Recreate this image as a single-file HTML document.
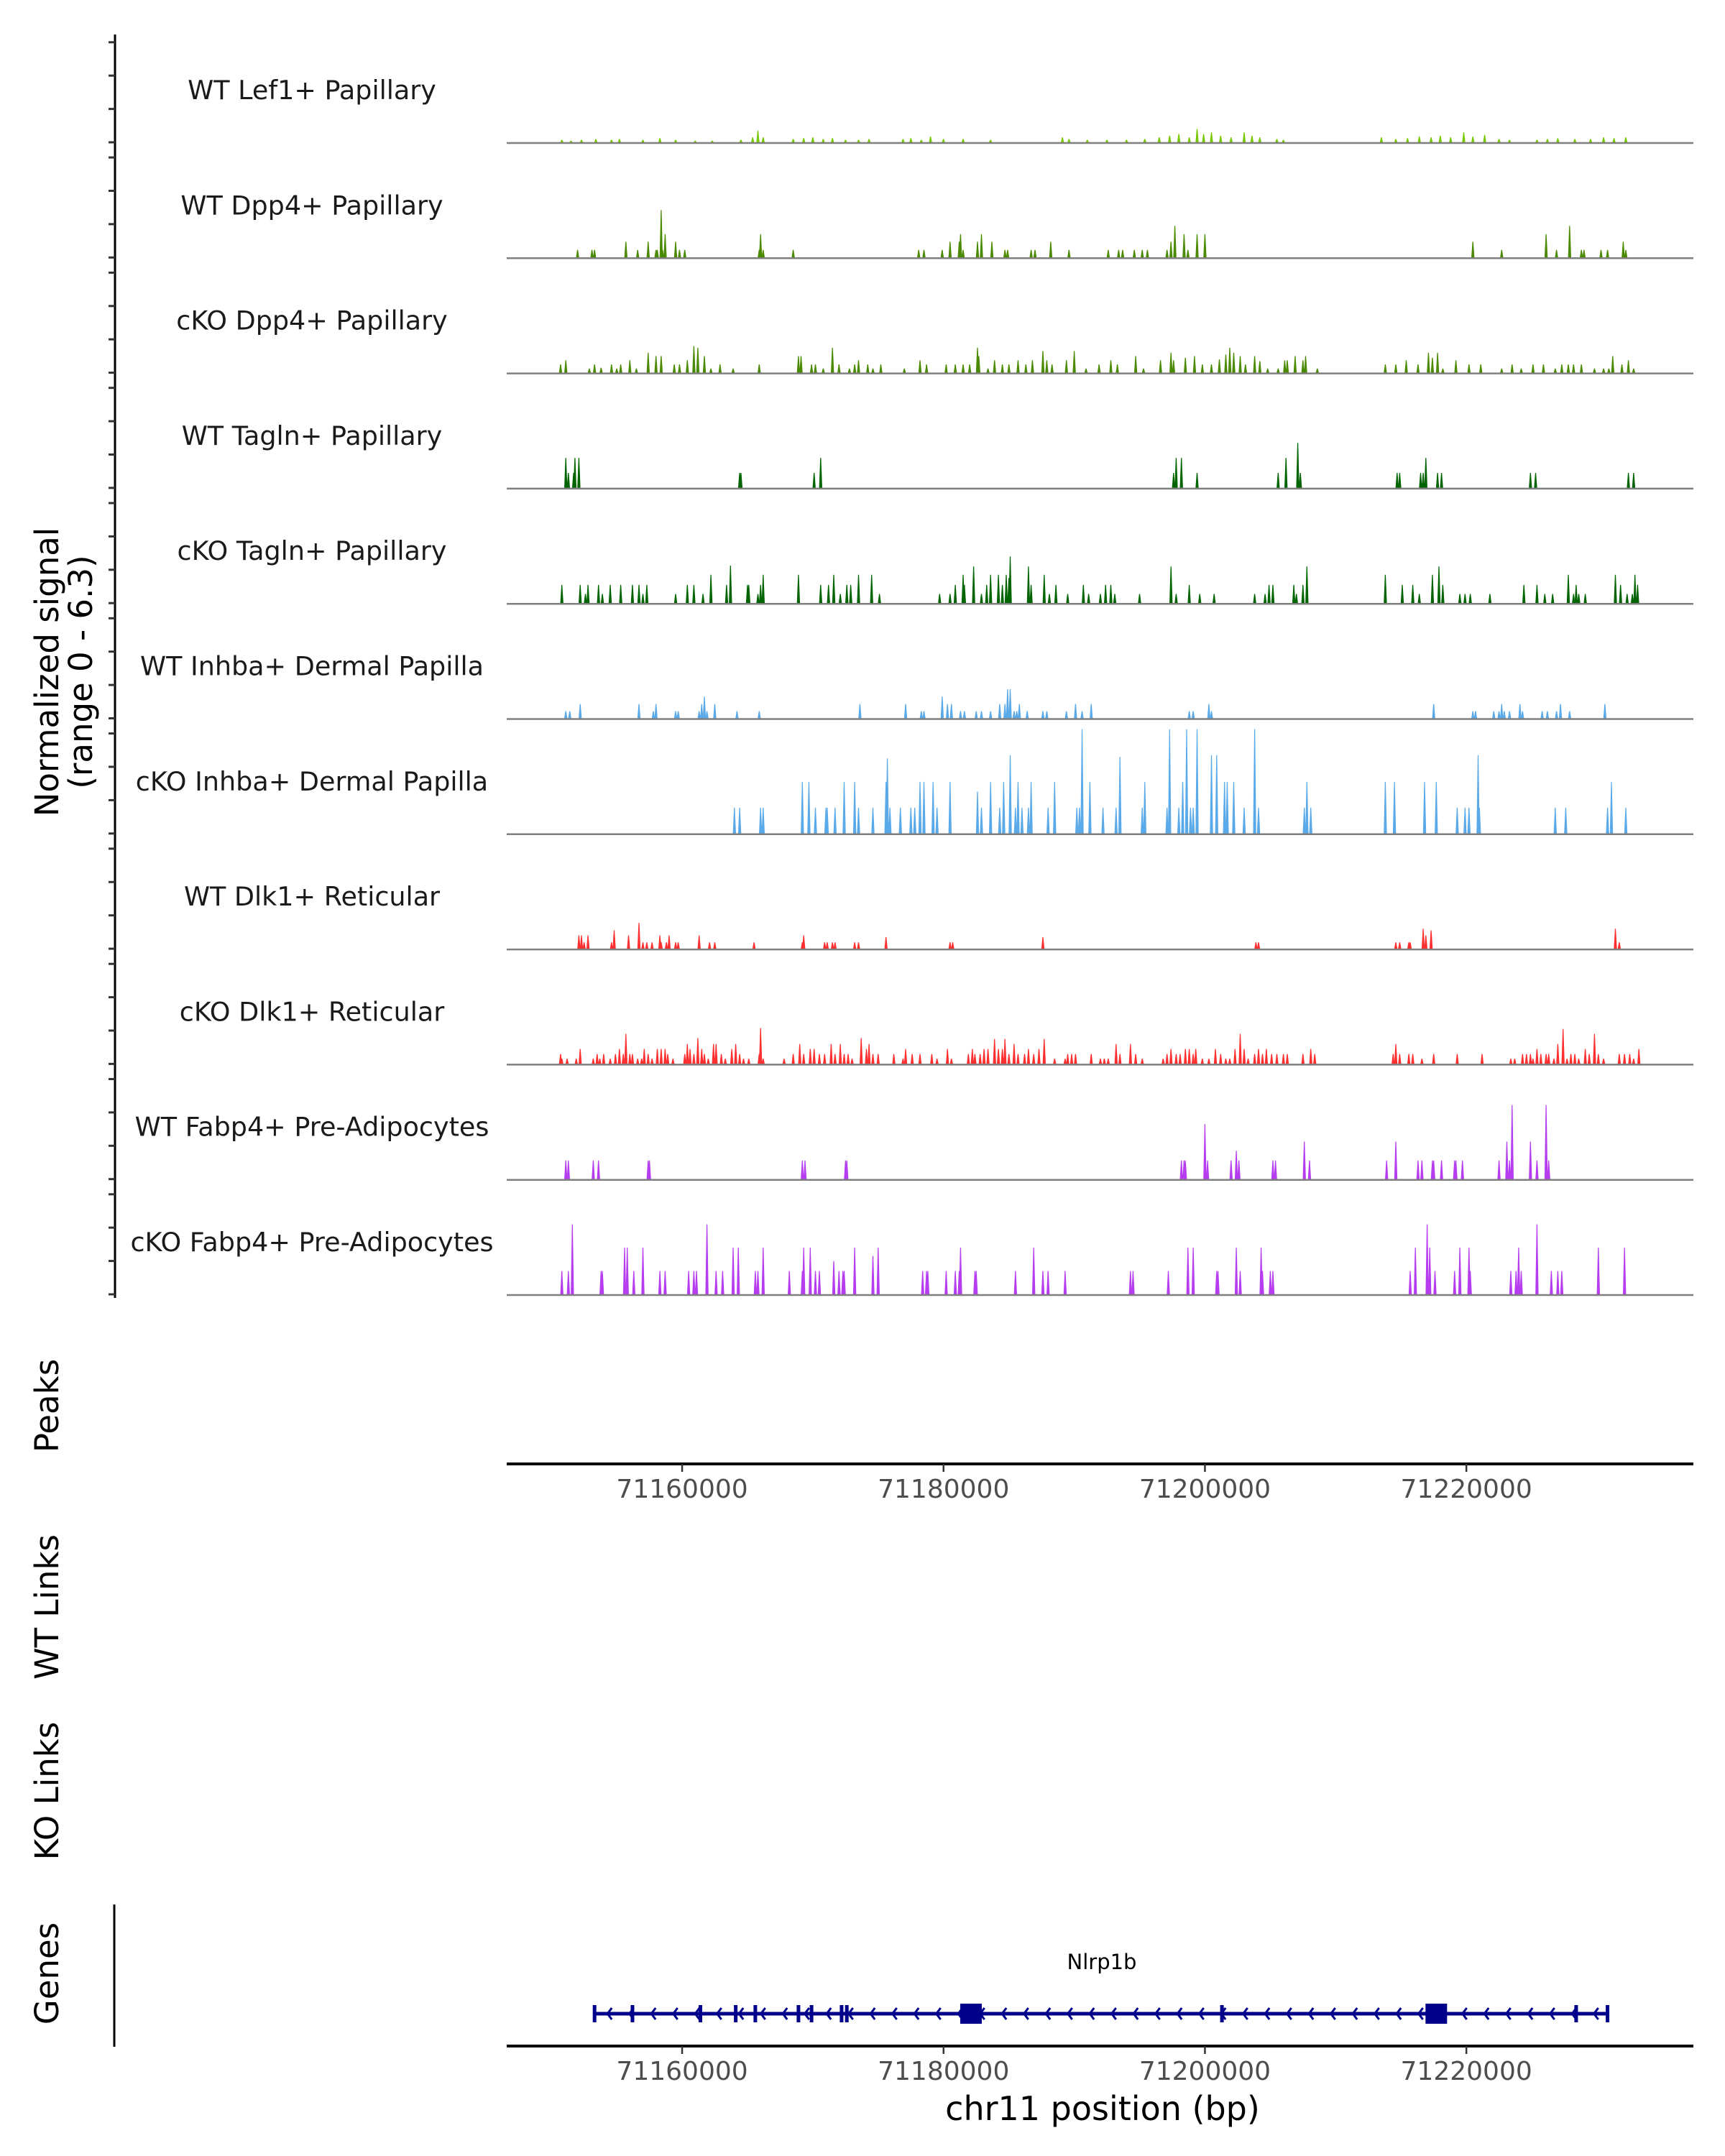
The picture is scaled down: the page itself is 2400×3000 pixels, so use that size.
<!DOCTYPE html>
<html><head><meta charset="utf-8"><style>
html,body{margin:0;padding:0;background:#fff}
svg{display:block}
text{font-family:"DejaVu Sans","Liberation Sans",sans-serif}
</style></head><body>
<svg id="chart" width="2400" height="3000" viewBox="0 0 2400 3000" xmlns="http://www.w3.org/2000/svg"></svg>
<script>
// ---- data (positions are kb offsets from 71,140,000 bp; values are normalized signal) ----
const originBp = 71140000;
const trackNames = ["WT Lef1+ Papillary","WT Dpp4+ Papillary","cKO Dpp4+ Papillary","WT Tagln+ Papillary","cKO Tagln+ Papillary","WT Inhba+ Dermal Papilla","cKO Inhba+ Dermal Papilla","WT Dlk1+ Reticular","cKO Dlk1+ Reticular","WT Fabp4+ Pre-Adipocytes","cKO Fabp4+ Pre-Adipocytes"];
const trackColors = ["#76c800","#4a8a00","#4a8a00","#006400","#006400","#5aaaea","#5aaaea","#ff2f2f","#ff2f2f","#b63cf0","#b63cf0"];
const xTicks = [71160000,71180000,71200000,71220000];
const yTickValues = [0,2,4,6];
const yMax = 6.3;

const pos1 = [10.8,11.5,12.3,13.4,14.6,15.2,17.0,18.3,19.5,21.0,22.3,24.5,25.4,25.8,26.2,28.5,29.3,30.0,30.8,31.5,32.5,33.5,34.3,36.9,37.5,38.3,39.0,40.0,41.5,43.6,49.1,49.6,51.0,52.5,54.0,55.4,56.5,57.3,58.0,58.8,59.4,59.9,60.5,61.2,62.0,63.0,63.6,64.2,65.5,66.0,73.5,74.6,75.5,76.4,77.3,78.0,78.8,79.8,80.5,81.4,82.5,83.3,85.4,86.2,87.0,88.3,89.5,90.5,91.3,92.2];
const val1 = [.15,.1,.15,.2,.15,.2,.15,.25,.15,.1,.1,.15,.3,.7,.3,.2,.25,.3,.2,.25,.15,.15,.2,.2,.25,.15,.35,.2,.2,.15,.3,.2,.15,.15,.15,.2,.3,.4,.5,.3,.8,.5,.6,.4,.3,.6,.4,.3,.2,.15,.3,.2,.25,.35,.3,.4,.3,.6,.35,.45,.2,.15,.15,.2,.25,.2,.2,.3,.25,.3];

const pos2 = [12.0,13.1,13.3,15.7,16.6,17.4,18.0,18.1,18.4,18.5,18.7,19.5,19.8,20.2,25.9,26.0,26.2,28.5,38.1,38.5,39.9,40.5,41.2,41.3,41.5,42.6,42.9,43.7,44.7,44.9,46.7,47.0,48.2,49.6,52.6,53.4,53.7,54.6,55.2,55.6,57.1,57.4,57.7,58.4,58.7,59.4,60.0,80.5,82.7,86.1,86.9,87.9,88.8,89.0,90.3,90.8,92.0,92.2];
const val2 = [.46,.46,.46,.95,.46,.95,.46,.46,2.85,.46,1.4,.95,.46,.46,.46,1.4,.46,.46,.46,.46,.46,.95,.95,1.4,.46,.95,1.4,.95,.46,.46,.46,.46,.95,.46,.46,.46,.46,.46,.46,.46,.46,.95,1.9,1.4,.46,1.4,1.4,.95,.46,1.4,.46,1.9,.46,.46,.46,.46,.95,.46];

const pos3 = [10.7,11.1,12.9,13.3,13.8,14.6,15.0,15.3,16.0,16.5,17.4,18.0,18.4,19.4,19.8,20.4,20.9,21.2,21.7,22.2,22.9,23.9,25.9,28.9,29.1,29.9,30.2,30.8,31.5,32.0,32.8,33.2,33.5,34.2,34.6,35.2,37.0,38.2,38.7,40.2,40.9,41.5,42.0,42.6,42.7,43.4,43.9,44.5,45.0,45.7,46.3,46.8,47.6,47.9,48.3,49.4,50.0,50.9,51.9,52.8,53.3,54.7,55.3,56.6,57.4,57.6,58.5,59.2,59.8,60.5,61.1,61.6,61.9,62.2,62.7,63.1,63.8,64.2,64.8,65.6,66.1,66.3,66.9,67.5,67.7,68.6,73.8,74.6,75.4,76.3,77.1,77.4,77.8,78.2,79.2,80.2,81.1,82.7,83.5,84.2,85.1,85.9,86.8,87.3,87.8,88.2,88.8,89.8,90.5,90.9,91.2,91.9,92.4,92.8];
const val3 = [.5,.75,.25,.5,.3,.5,.25,.5,.75,.25,1.2,1.0,1.0,.5,.5,.75,1.6,1.5,1.0,.25,.5,.25,.5,1.0,1.0,.5,.5,.25,1.5,.5,.25,.5,.75,.5,.25,.5,.25,.75,.5,.5,.5,.5,.5,1.5,1.0,.25,.75,.5,.5,.75,.5,.75,1.3,.75,.5,.75,1.3,.25,.5,.75,.5,1.0,.25,.75,1.2,.75,.9,1.0,.5,.5,.8,1.1,1.5,1.2,1.0,.5,1.0,.7,.25,.25,.75,.75,1.0,.75,1.0,.25,.5,.5,.75,.5,1.2,.9,1.2,.25,.75,.5,.5,.25,.5,.25,.5,.5,.25,.5,.5,.5,.5,.25,.25,.25,1.0,.5,.75,.25];

const pos4 = [11.1,11.3,11.7,11.8,12.1,24.4,24.5,30.1,30.6,57.6,57.8,58.2,59.4,65.6,66.2,67.1,67.3,74.7,74.9,76.5,76.7,76.9,77.8,78.1,84.9,85.3,92.4,92.8];
const val4 = [1.8,.9,.9,1.8,1.8,.9,.9,.9,1.8,.9,1.8,1.8,.9,.9,1.8,2.7,.9,.9,.9,.9,.9,1.8,.9,.9,.9,.9,.9,.9];

const pos5 = [10.8,12.2,12.6,12.8,13.6,13.9,14.5,15.3,16.2,16.7,17.0,17.3,19.5,20.4,20.9,21.6,22.2,23.4,23.7,25.0,25.1,25.8,26.0,26.2,28.9,30.6,31.2,31.6,32.1,32.6,32.9,33.5,34.5,35.1,39.7,40.5,40.9,41.5,41.6,42.3,42.9,43.3,43.6,44.2,44.5,44.8,45.0,45.1,46.5,46.7,47.7,48.1,48.6,49.5,50.7,51.1,52.0,52.4,52.8,53.1,55.0,57.4,57.8,58.8,59.6,60.7,63.8,64.6,64.9,65.2,66.8,67.0,67.5,67.8,73.8,75.1,75.9,76.4,77.4,77.9,78.2,79.5,79.9,80.3,81.8,84.4,85.4,86.0,86.6,87.8,88.2,88.4,88.6,89.1,91.4,91.8,92.3,92.7,92.9,93.1];
const val5 = [1.1,1.1,.55,1.1,1.1,.55,1.1,1.1,1.1,1.1,.55,1.1,.55,1.1,1.1,.55,1.7,1.1,2.25,1.1,1.1,.55,1.1,1.7,1.7,1.1,1.1,1.7,.55,1.1,1.1,1.7,1.7,.55,.55,.55,1.1,1.7,1.1,2.2,.55,1.1,1.7,1.7,1.1,1.7,1.5,2.8,2.2,1.1,1.7,.55,1.1,.55,1.1,.55,.55,1.1,1.1,.55,.55,2.2,.55,1.1,.55,.55,.55,.55,1.1,1.1,1.1,.55,1.1,2.2,1.7,1.1,1.1,.55,1.7,2.2,1.1,.55,.55,.55,.55,1.1,1.1,.55,.55,1.7,.55,1.1,.55,.55,1.7,1.1,.55,.55,1.7,1.1];

const pos6 = [11.1,11.4,12.2,16.7,17.8,18.0,19.5,19.7,21.3,21.5,21.7,21.9,22.5,24.2,25.9,33.6,37.1,38.3,38.5,39.9,40.3,40.6,41.3,41.6,42.5,42.9,43.6,44.3,44.7,44.9,45.1,45.4,45.6,45.8,46.4,47.6,47.9,49.4,50.1,50.6,51.3,58.8,59.1,60.3,60.5,77.5,80.5,80.7,82.1,82.5,82.7,82.9,83.3,84.1,84.3,85.8,86.2,86.9,87.2,87.9,90.6];
const val6 = [.43,.43,.86,.86,.43,.86,.43,.43,.43,.86,1.3,.43,.86,.43,.43,.86,.86,.43,.43,1.3,.86,.86,.43,.43,.43,.43,.43,.86,.86,1.75,1.75,.43,.43,.86,.43,.43,.43,.43,.86,.43,.86,.43,.43,.86,.43,.86,.43,.43,.43,.43,.86,.43,.43,.86,.43,.43,.43,.43,.86,.43,.86];

const pos7 = [24.0,24.4,26.0,26.2,29.2,29.7,30.2,31.0,31.1,31.7,32.4,33.2,33.5,34.6,35.6,35.7,35.9,36.7,37.5,37.8,38.2,38.5,39.2,39.5,40.5,42.6,42.9,43.6,44.3,44.6,45.1,45.5,45.7,46.0,46.5,46.7,48.0,48.5,50.2,50.4,50.6,51.2,52.2,53.2,53.5,55.2,55.4,57.1,57.3,58.0,58.3,58.6,58.9,59.1,59.4,60.5,60.9,61.5,61.7,62.2,63.0,63.8,64.1,67.6,67.8,68.1,73.8,74.5,76.8,77.7,79.3,79.9,80.2,80.9,81.0,86.8,87.6,90.8,91.1,92.2];
const val7 = [1.55,1.55,1.55,1.55,3.1,3.1,1.55,1.55,1.55,1.55,3.1,3.1,1.55,1.55,3.1,4.5,1.55,1.55,1.55,1.55,3.1,3.1,3.1,1.55,3.1,2.5,1.55,3.1,1.55,3.1,4.7,1.55,3.1,1.55,1.55,3.1,1.55,3.1,1.55,1.55,6.25,3.1,1.55,1.55,4.6,1.55,3.1,1.55,6.25,1.55,3.1,6.25,1.55,1.55,6.25,4.7,4.7,3.1,3.1,3.1,1.55,6.25,1.55,1.55,3.1,1.55,3.1,3.1,3.1,3.1,1.55,1.55,1.55,4.7,1.55,1.55,1.55,1.55,3.1,1.55];

const pos8 = [12.1,12.3,12.5,12.8,14.6,14.8,15.9,16.7,17.0,17.3,17.7,18.3,18.4,18.8,19.0,19.5,19.7,21.3,22.1,22.5,25.5,29.2,29.3,30.9,31.1,31.5,31.7,33.2,33.5,35.6,40.5,40.7,47.6,63.9,64.1,74.6,74.9,75.6,75.7,76.7,76.9,77.3,91.4,91.7];
const val8 = [.8,.8,.39,.8,.39,1.1,.8,1.55,.39,.39,.39,.8,.39,.39,.8,.39,.39,.8,.39,.39,.39,.39,.8,.39,.39,.39,.39,.39,.39,.7,.39,.39,.7,.39,.39,.39,.39,.39,.39,1.2,.8,1.1,1.2,.39];

const pos9 = [10.7,10.8,11.2,11.9,12.2,13.2,13.5,13.7,14.0,14.5,14.9,15.2,15.5,15.7,16.0,16.2,16.6,16.9,17.1,17.4,17.7,18.1,18.4,18.7,18.9,19.3,20.2,20.4,20.6,20.9,21.2,21.5,21.7,22.0,22.4,22.6,23.0,23.3,23.8,24.1,24.4,24.7,25.1,25.9,26.0,26.2,27.8,28.5,29.0,29.3,29.8,30.1,30.5,30.9,31.4,31.7,32.1,32.4,32.7,33.0,33.7,34.1,34.3,34.6,35.0,36.2,36.9,37.1,37.6,38.2,39.1,39.5,40.3,40.6,41.9,42.2,42.4,42.8,43.1,43.4,43.9,44.2,44.5,44.7,45.0,45.4,45.7,46.2,46.5,46.9,47.3,47.7,48.5,49.3,49.5,49.8,50.1,51.3,52.0,52.3,52.6,53.2,53.5,54.3,54.7,55.2,56.8,57.1,57.4,57.8,58.1,58.5,58.8,59.1,59.3,59.8,60.3,60.8,61.2,61.6,61.9,62.3,62.7,63.0,63.3,63.8,64.1,64.4,64.7,65.1,65.5,66.0,66.3,67.5,68.1,68.4,74.4,74.6,74.9,75.6,75.9,76.6,77.5,79.3,81.2,83.4,83.7,84.3,84.6,84.9,85.1,85.4,85.7,86.1,86.3,86.7,87.0,87.4,87.7,88.0,88.3,88.6,89.1,89.4,89.8,90.1,90.5,91.7,92.1,92.5,92.8,93.2];
const val9 = [.6,.32,.32,.32,.9,.32,.6,.32,.6,.32,.6,.9,.6,1.8,.6,.6,.32,.32,.9,.6,.32,.9,.9,.9,.6,.32,.6,1.2,.9,.6,1.55,.9,.6,.32,1.2,1.2,.6,.32,.9,1.2,.6,.32,.32,.6,2.15,.32,.32,.6,1.2,.6,.9,.9,.6,.6,1.2,.6,1.2,.6,.6,.32,1.55,.9,1.2,.6,.6,.6,.32,.9,.6,.6,.6,.32,.9,.32,.6,.9,.6,.6,.9,.9,1.5,.9,.9,1.5,.6,1.2,.6,.6,.9,.6,.9,1.5,.32,.32,.6,.6,.6,.6,.32,.32,.32,1.2,.6,1.2,.6,.32,.32,.6,.9,.6,.6,.9,.9,.6,.9,.32,.32,.9,.6,.32,.32,.9,1.8,.9,.32,.6,.9,.6,.9,.6,.6,.6,.6,.6,.9,.6,.6,1.2,.6,.6,.6,.32,.6,.6,.6,.32,.32,.6,.6,.6,.32,.9,.6,.6,.6,.32,1.2,2.1,.32,.6,.6,.32,.9,.6,1.8,.6,.32,.6,.6,.6,.32,.9];

const pos10 = [11.1,11.3,13.2,13.6,17.4,17.5,29.2,29.4,32.5,32.6,58.2,58.4,58.5,60.0,60.2,62.0,62.4,62.6,65.2,65.4,67.6,68.0,73.9,74.6,76.3,76.6,77.4,77.5,78.1,79.1,79.2,79.7,82.5,83.1,83.3,83.5,84.9,85.4,86.1,86.3];
const val10 = [1.12,1.12,1.12,1.12,1.12,1.12,1.12,1.12,1.12,1.12,1.12,1.12,1.12,3.3,1.12,1.12,1.7,1.12,1.12,1.12,2.25,1.12,1.12,2.25,1.12,1.12,1.12,1.12,1.12,1.12,1.12,1.12,1.12,2.25,1.12,4.45,2.25,1.12,4.45,1.12];

const pos11 = [10.8,11.3,11.6,13.8,13.9,15.6,15.8,16.3,17.0,18.3,18.7,20.5,20.9,21.1,21.9,22.6,23.1,23.9,24.3,25.6,25.8,26.2,28.2,29.2,29.3,29.8,30.2,30.5,31.6,32.0,32.3,32.4,33.2,34.6,35.0,38.4,38.7,38.8,40.2,40.9,41.2,41.3,42.4,42.5,45.5,46.9,47.6,48.0,49.3,54.3,54.5,57.2,58.7,59.1,60.9,61.0,62.4,62.7,64.3,64.4,65.0,65.2,75.7,76.1,77.0,77.2,77.6,79.1,79.5,80.2,80.3,83.4,83.8,84.0,84.2,85.4,86.5,87.0,87.3,90.1,92.1];
const val11 = [1.4,1.4,4.2,1.4,1.4,2.8,2.8,1.4,2.8,1.4,1.4,1.4,1.4,1.4,4.2,1.4,1.4,2.8,2.8,1.4,1.4,2.8,1.4,1.4,2.8,2.8,1.4,1.4,2.0,1.4,1.4,1.4,2.8,2.3,2.8,1.4,1.4,1.4,1.4,1.4,1.4,2.8,1.4,1.4,1.4,2.8,1.4,1.4,1.4,1.4,1.4,1.4,2.8,2.8,1.4,1.4,2.8,1.4,2.8,1.4,1.4,1.4,1.4,2.8,4.2,2.8,1.4,1.4,2.8,2.8,1.4,1.4,1.4,2.8,1.4,4.2,1.4,1.4,1.4,2.8,2.8];

const geneName = "Nlrp1b";
const geneStart = 13.3, geneEnd = 90.8;
const exonsSmall = [13.3,16.2,21.4,24.1,25.6,28.9,29.9,32.2,32.6,61.3,88.4,90.8];
const exonsBig = [42.1,77.7];

const positions = [pos1,pos2,pos3,pos4,pos5,pos6,pos7,pos8,pos9,pos10,pos11];
const values = [val1,val2,val3,val4,val5,val6,val7,val8,val9,val10,val11];

// ---- layout ----
const NS = "http://www.w3.org/2000/svg";
const svg = document.getElementById("chart");
const X0 = 705, X1 = 2356;
const domainStart = 71146690, bpPerPx = 54.99;
function xScale(bp){ return 707 + (bp - domainStart)/bpPerPx; }
function kbToBp(kb){ return originBp + kb*1000; }
const base0 = 198, pitch = 160.3, unitPx = 23.2;
function yScale(track, v){ return base0 + track*pitch - v*unitPx; }
function mk(tag, attrs, parent){ const e=document.createElementNS(NS,tag); for(const k in attrs) e.setAttribute(k,attrs[k]); (parent||svg).appendChild(e); return e; }

const yAxis = mk("line",{x1:160,y1:48,x2:160,y2:1806,stroke:"#000","stroke-width":3});



for(let t=0;t<trackNames.length;t++){
  const g = mk("g",{});
  
  
  for(const v of yTickValues){
    const y = yScale(t,v);
    const tk = mk("line",{x1:151,y1:y,x2:160,y2:y,stroke:"#333","stroke-width":3},g);
    
    
  }
  const lb = mk("text",{x:434,y:yScale(t,0)-60,"text-anchor":"middle","font-size":36.5,fill:"#1a1a1a"},g);
  lb.textContent = trackNames[t];
  
  
  const pos = positions[t], val = values[t];
  let d = "";
  const yb = yScale(t,0);
  for(let i=0;i<pos.length;i++){
    const x = xScale(kbToBp(pos[i]));
    const y = yScale(t,val[i]);
    d += `M${(x-2.2).toFixed(1)},${yb}L${(x-0.6).toFixed(1)},${y.toFixed(1)}L${(x+0.6).toFixed(1)},${y.toFixed(1)}L${(x+2.2).toFixed(1)},${yb}Z`;
  }
  const p = mk("path",{d:d,fill:trackColors[t]},g);
  
  
  const bl = mk("line",{x1:X0,y1:yb+1,x2:X1,y2:yb+1,stroke:"#7f7f7f","stroke-width":2.5},g);
  
  
}

function xAxis(y, name){
  const g = mk("g",{});
  
  
  mk("line",{x1:X0,y1:y,x2:X1,y2:y,stroke:"#000","stroke-width":4},g);
  for(const t of xTicks){
    const x = xScale(t);
    mk("line",{x1:x,y1:y,x2:x,y2:y+11,stroke:"#333","stroke-width":2.5},g);
    const tx = mk("text",{x:x,y:y+47,"text-anchor":"middle","font-size":36,fill:"#4d4d4d"},g);
    tx.textContent = String(t);
    
    
  }
}
xAxis(2037,'peaks-x-axis');
xAxis(2847,'genes-x-axis');

const gl = mk("line",{x1:159,y1:2650,x2:159,y2:2848,stroke:"#000","stroke-width":3});


const gg = mk("g",{});


const gy = 2802;
const gx0 = xScale(kbToBp(geneStart)), gx1 = xScale(kbToBp(geneEnd));
mk("line",{x1:gx0,y1:gy,x2:gx1,y2:gy,stroke:"#00008b","stroke-width":5},gg);
let cd = "";
for(let x=gx0+18;x<gx1-10;x+=30.5){ cd += `M${(x+6).toFixed(1)},${gy-8}L${x.toFixed(1)},${gy}L${(x+6).toFixed(1)},${gy+8}`; }
mk("path",{d:cd,fill:"none",stroke:"#00008b","stroke-width":3},gg);
for(const e of exonsSmall){
  const x = xScale(kbToBp(e));
  const r = mk("rect",{x:x-2.5,y:gy-12,width:5,height:24,fill:"#00008b"},gg);
  
  
}
for(const e of exonsBig){
  const x = xScale(kbToBp(e));
  const r = mk("rect",{x:x-15,y:gy-14,width:30,height:28,fill:"#00008b"},gg);
  
  
}
const gn = mk("text",{x:1533,y:2740,"text-anchor":"middle","font-size":29,fill:"#000"});
gn.textContent = geneName;


</script>
<svg style="position:absolute;left:0;top:0" width="2400" height="3000" xmlns="http://www.w3.org/2000/svg">
<g font-family="DejaVu Sans, Liberation Sans, sans-serif" fill="#000">
<text transform="translate(81,935) rotate(-90)" text-anchor="middle" font-size="45">Normalized signal</text>
<text transform="translate(128,935) rotate(-90)" text-anchor="middle" font-size="45">(range 0 - 6.3)</text>
<text transform="translate(81,1956) rotate(-90)" text-anchor="middle" font-size="45">Peaks</text>
<text transform="translate(81,2236) rotate(-90)" text-anchor="middle" font-size="45">WT Links</text>
<text transform="translate(81,2492) rotate(-90)" text-anchor="middle" font-size="45">KO Links</text>
<text transform="translate(81,2746) rotate(-90)" text-anchor="middle" font-size="45">Genes</text>
<text x="1534" y="2950" text-anchor="middle" font-size="46">chr11 position (bp)</text>
</g>
</svg>
</body></html>
